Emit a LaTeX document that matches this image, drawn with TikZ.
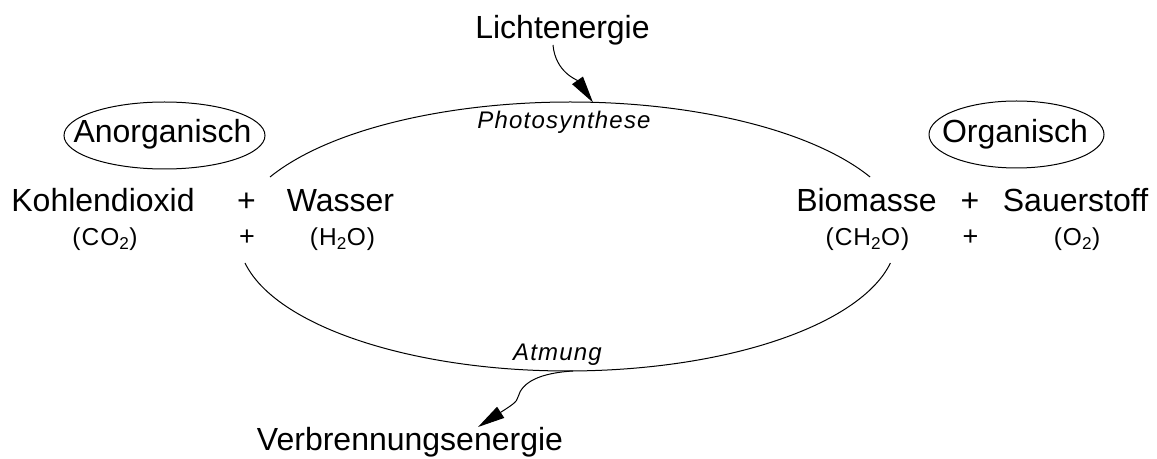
\documentclass[tikz,border=0pt]{standalone}
\usepackage{fontspec}
\setmainfont{Liberation Sans}
\usetikzlibrary{arrows.meta}
\begin{document}
\begin{tikzpicture}[x=1pt,y=1pt,
  bigtext/.style={font=\fontsize{32}{38}\selectfont, inner sep=0pt, anchor=base},
  smalltext/.style={font=\fontsize{24.5}{29}\selectfont\addfontfeature{LetterSpace=4}, inner sep=0pt, anchor=base},
  plustext/.style={font=\fontsize{27}{32}\selectfont, inner sep=0pt, anchor=base},
  itext/.style={font=\fontsize{24}{29}\selectfont\itshape\addfontfeature{LetterSpace=5}, inner sep=0pt, anchor=base},
  thinline/.style={line width=1pt, black},
  energyarrow/.style={thinline, -{Triangle[length=27pt,width=13pt]}}]
\useasboundingbox (0,0) rectangle (1157,458);

% top labels
\node[bigtext] (licht) at (562.5,419) {Lichtenergie};
\node[bigtext] (verb) at (410,8) {Verbrennungsenergie};

% ellipses with class labels
\node[bigtext] (anorg) at (162.5,315) {Anorganisch};
\draw[thinline] (164.5,322.5) ellipse[x radius=100.5, y radius=33.5];
\node[bigtext] (org) at (1015,315.3) {Organisch};
\draw[thinline] (1016.5,323.5) ellipse[x radius=87.5, y radius=33.5];

% row 1
\node[bigtext] (co2) at (103,246) {Kohlendioxid};
\node[bigtext] (p1) at (246.5,246) {+};
\node[bigtext] (h2o) at (340.5,246) {Wasser};
\node[bigtext] (bio) at (866.5,246) {Biomasse};
\node[bigtext] (p2) at (970,246) {+};
\node[bigtext] (o2) at (1075.5,246) {Sauerstoff};

% row 2
\node[smalltext] (fco2) at (105,212) {(CO\textsubscript{2})};
\node[plustext] (fp1) at (247,212) {+};
\node[smalltext] (fh2o) at (342.5,212) {(H\textsubscript{2}O)};
\node[smalltext] (fbio) at (867.5,212) {(CH\textsubscript{2}O)};
\node[plustext] (fp2) at (970.5,212) {+};
\node[smalltext] (fo2) at (1077,212) {(O\textsubscript{2})};

% cycle arcs
\draw[thinline] (270,281) arc[start angle=153.6, end angle=26.4, x radius=335, y radius=135];
\draw[thinline] (245,195) arc[start angle=191.2, end angle=348.8, x radius=329, y radius=134];

\node[itext] (photo) at (564,329) {Photosynthese};
\node[itext] (atm) at (557.5,97) {Atmung};

% energy arrows
\coordinate (lichtstart) at (553,413);
\coordinate (lichtend) at (593,355.5);
\draw[energyarrow] (lichtstart) to[out=-85,in=125] (lichtend);

\coordinate (atmstart) at (573,87);
\coordinate (atmmid) at (518,61);
\coordinate (verbend) at (478,31);
\draw[energyarrow] (atmstart) .. controls (540,85) and (522,76) .. (atmmid)
  .. controls (517,56) and (512,53) .. (verbend);
\end{tikzpicture}
\end{document}
